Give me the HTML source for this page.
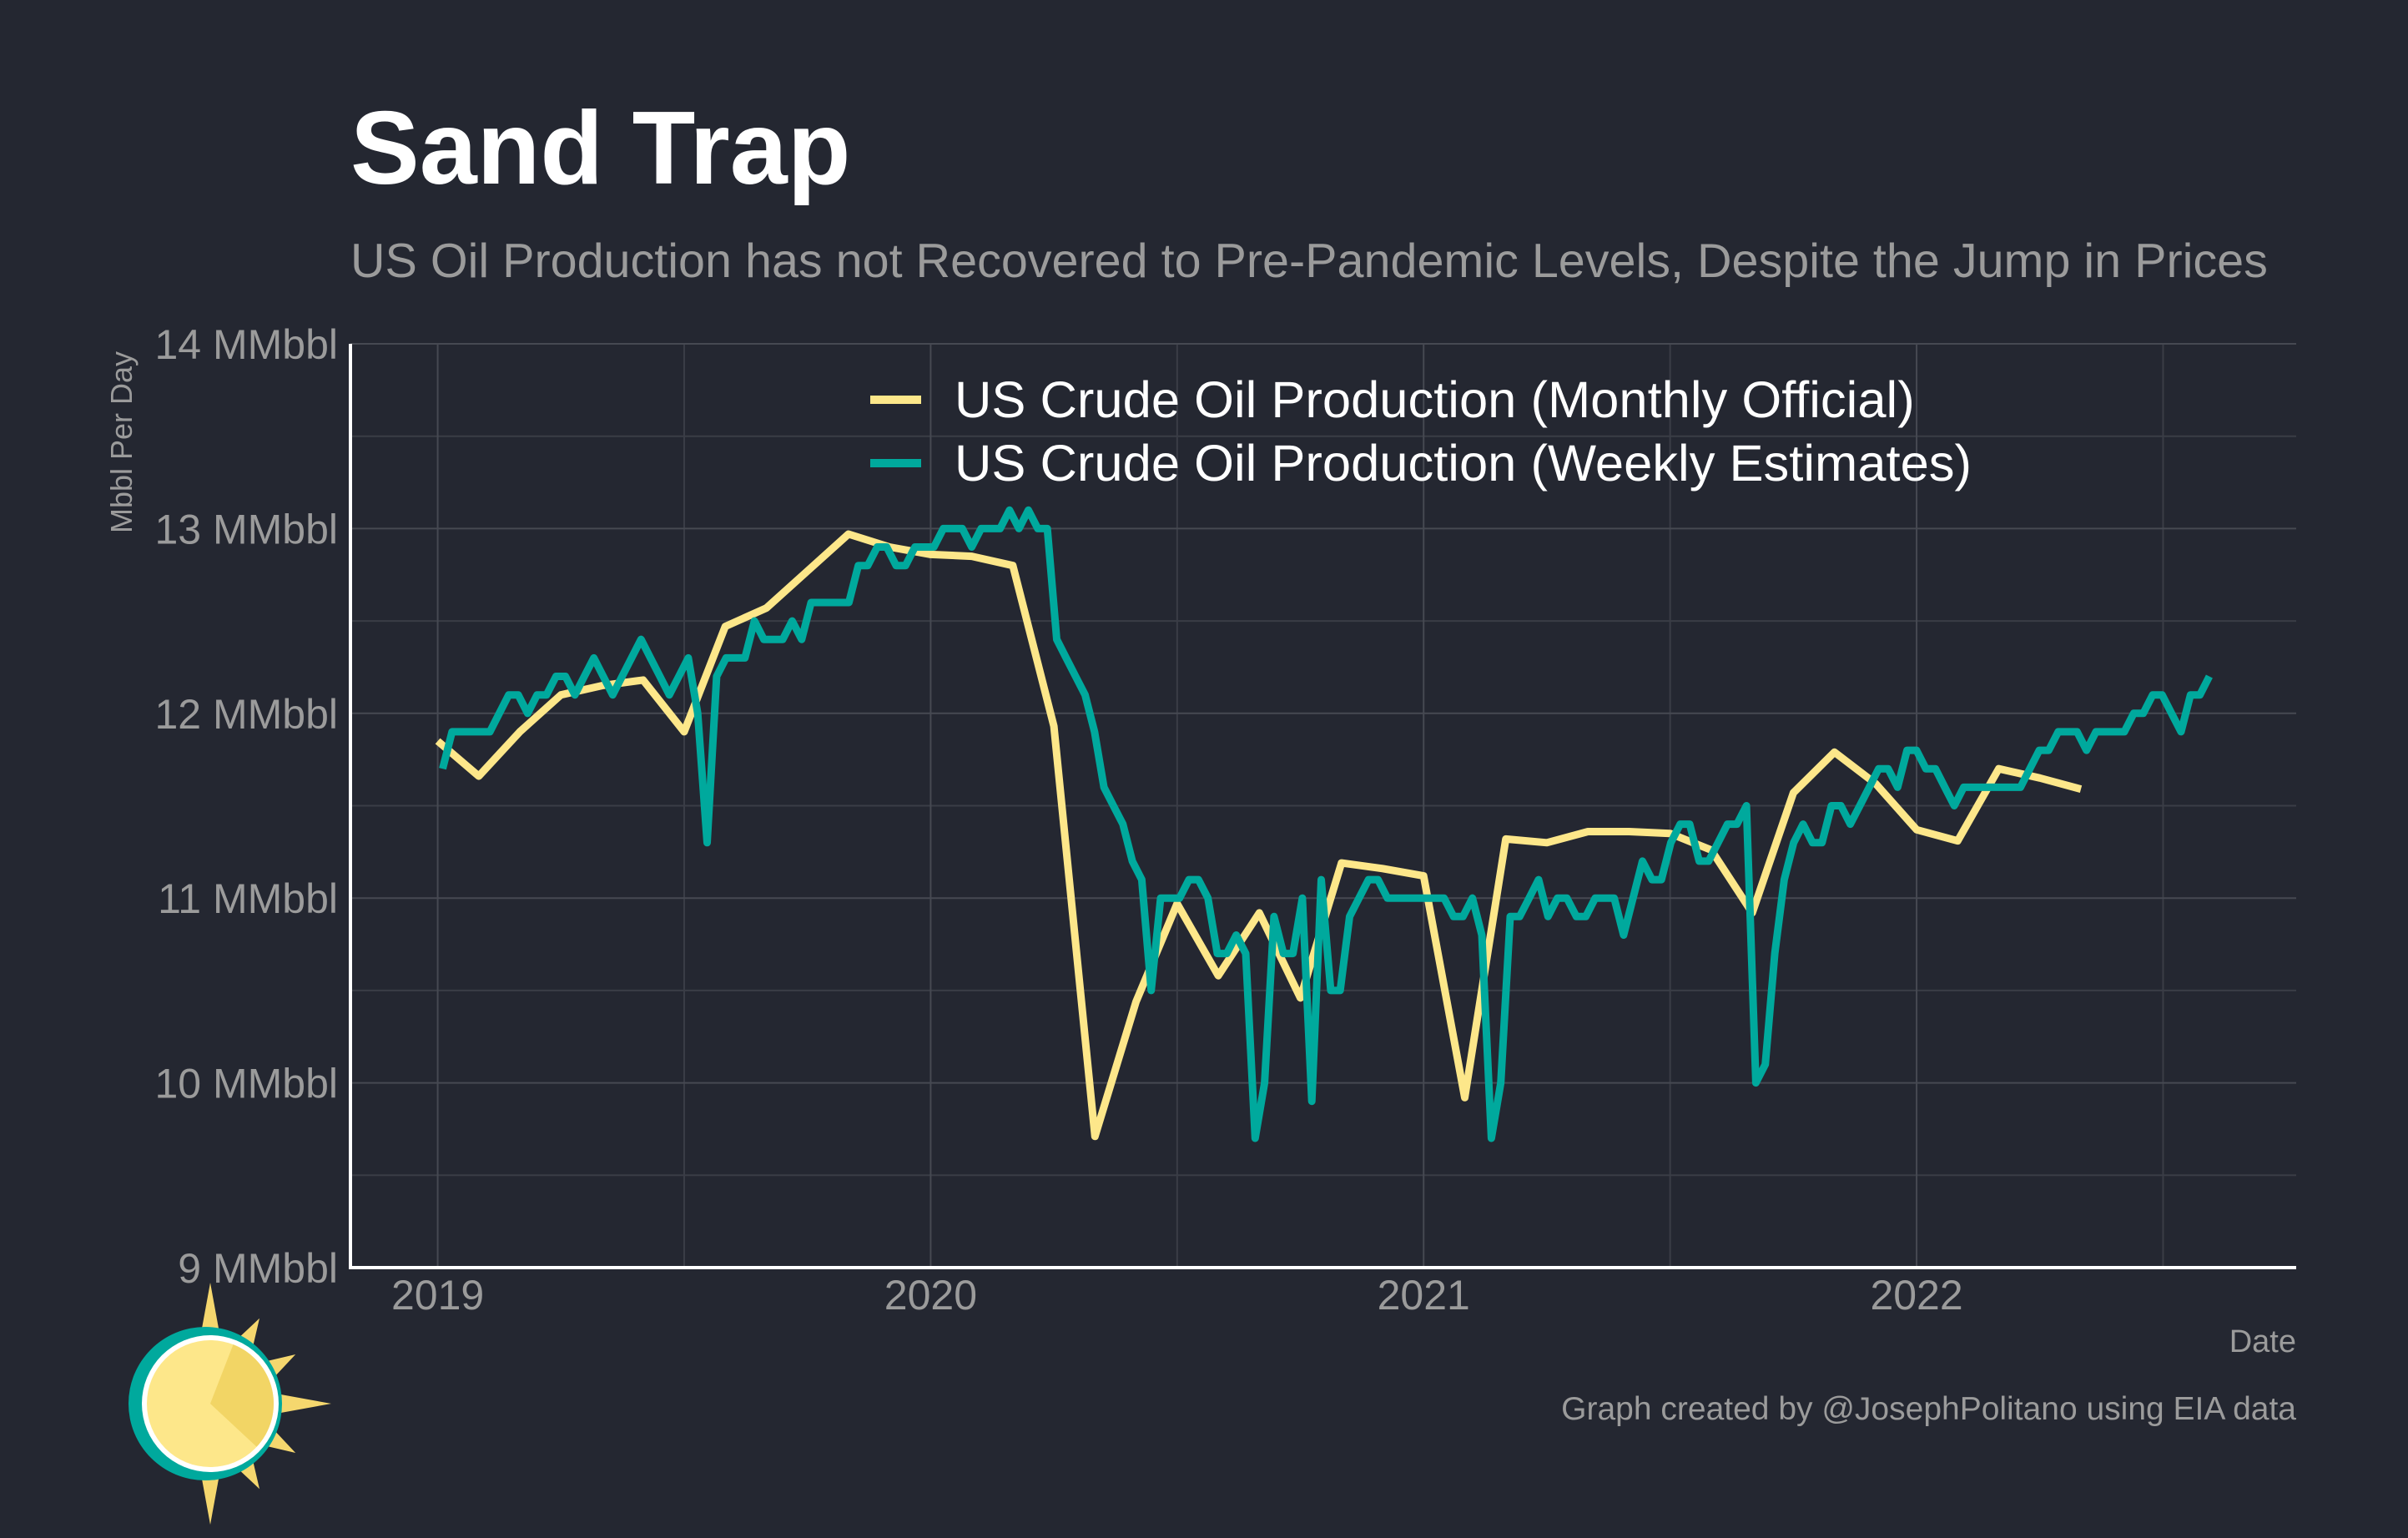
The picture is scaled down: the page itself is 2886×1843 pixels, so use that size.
<!DOCTYPE html>
<html><head><meta charset="utf-8">
<style>
html,body{margin:0;padding:0;background:#242731;}
svg{display:block;}
text{font-family:"Liberation Sans",Arial,sans-serif;}
</style></head>
<body>
<svg id="chart" width="2886" height="1843" viewBox="0 0 2886 1843">
<rect x="0" y="0" width="2886" height="1843" fill="#242731"/>
<text x="420" y="220" font-size="124" font-weight="bold" fill="#ffffff">Sand Trap</text>
<text x="420" y="332" font-size="57.5" fill="#9b9b9b">US Oil Production has not Recovered to Pre-Pandemic Levels, Despite the Jump in Prices</text>
<g id="grid"></g>
<g id="yticks"></g>
<g id="xticks"></g>
<text transform="translate(158,530) rotate(-90)" text-anchor="middle" font-size="36" fill="#9b9b9b">Mbbl Per Day</text>
<g id="series"></g>
<line x1="420" y1="412" x2="420" y2="1519" stroke="#ffffff" stroke-width="4"/>
<line x1="418" y1="1519" x2="2752" y2="1519" stroke="#ffffff" stroke-width="4"/>
<g>
<g>
<line x1="1043" y1="479" x2="1104" y2="479" stroke="#fde78a" stroke-width="10"/>
<text x="1144" y="500" font-size="61.5" fill="#ffffff">US Crude Oil Production (Monthly Official)</text>
</g>
<g>
<line x1="1043" y1="555" x2="1104" y2="555" stroke="#00a99d" stroke-width="10"/>
<text x="1144" y="576" font-size="61.5" fill="#ffffff">US Crude Oil Production (Weekly Estimates)</text>
</g>
</g>
<text x="2752" y="1620" text-anchor="end" font-size="38" fill="#9b9b9b">Date</text>
<text x="2752" y="1701" text-anchor="end" font-size="39" fill="#9b9b9b">Graph created by @JosephPolitano using EIA data</text>
<g id="logo"></g>
</svg>
<script>
const yTicks = [9, 10, 11, 12, 13, 14];
const yTickLabels = ["9 MMbbl", "10 MMbbl", "11 MMbbl", "12 MMbbl", "13 MMbbl", "14 MMbbl"];
const xTicks = [2019, 2020, 2021, 2022];
const xTickLabels = ["2019", "2020", "2021", "2022"];
const monthlyStart = 2019.0;
const monthlyValues = [11.85,11.66,11.9,12.1,12.15,12.18,11.9,12.47,12.57,12.77,12.97,12.9,
 12.86,12.85,12.8,11.93,9.71,10.44,10.97,10.58,10.92,10.46,11.19,11.16,
 11.12,9.92,11.32,11.3,11.36,11.36,11.35,11.26,10.92,11.57,11.79,11.62,
 11.37,11.31,11.7,11.65,11.59];
const weeklyStart = 2019.01;
const weeklyValues = [
 11.7,11.9,11.9,11.9,11.9,11.9,12.0,12.1,12.1,12.0,12.1,12.1,12.2,12.2,12.1,12.2,12.3,12.2,12.1,12.2,
 12.3,12.4,12.3,12.2,12.1,12.2,12.3,12.0,11.3,12.2,12.3,12.3,12.3,12.5,12.4,12.4,12.4,12.5,12.4,12.6,
 12.6,12.6,12.6,12.6,12.8,12.8,12.9,12.9,12.8,12.8,12.9,12.9,
 12.9,13.0,13.0,13.0,12.9,13.0,13.0,13.0,13.1,13.0,13.1,13.0,13.0,12.4,12.3,12.2,12.1,11.9,11.6,11.5,
 11.4,11.2,11.1,10.5,11.0,11.0,11.0,11.1,11.1,11.0,10.7,10.7,10.8,10.7,9.7,10.0,10.9,10.7,10.7,11.0,
 9.9,11.1,10.5,10.5,10.9,11.0,11.1,11.1,11.0,11.0,11.0,11.0,
 11.0,11.0,11.0,10.9,10.9,11.0,10.8,9.7,10.0,10.9,10.9,11.0,11.1,10.9,11.0,11.0,10.9,10.9,11.0,11.0,
 11.0,10.8,11.0,11.2,11.1,11.1,11.3,11.4,11.4,11.2,11.2,11.3,11.4,11.4,11.5,10.0,10.1,10.7,11.1,11.3,
 11.4,11.3,11.3,11.5,11.5,11.4,11.5,11.6,11.7,11.7,11.6,11.8,
 11.8,11.7,11.7,11.6,11.5,11.6,11.6,11.6,11.6,11.6,11.6,11.6,11.7,11.8,11.8,11.9,11.9,11.9,11.8,11.9,
 11.9,11.9,11.9,12.0,12.0,12.1,12.1,12.0,11.9,12.1,12.1,12.2];

const NS = "http://www.w3.org/2000/svg";
const L = 420, R = 2752, T = 412, B = 1519;
const X0 = 2018.823, X1 = 2022.770;
function xs(t){ return L + (t - X0) / (X1 - X0) * (R - L); }
function ys(v){ return B - (v - 9) / (14 - 9) * (B - T); }
function mk(tag, attrs, parent){ const e = document.createElementNS(NS, tag); for (const k in attrs) e.setAttribute(k, attrs[k]); parent.appendChild(e); return e; }

const grid = document.getElementById('grid');
for (let v = 9.5; v < 14; v += 1) {
  const g = mk('line', {x1:L, x2:R, y1:ys(v), y2:ys(v), stroke:'#3a3d46', 'stroke-width':2}, grid);
  
  
}
for (let t = 2019.5; t < X1; t += 1) {
  const g = mk('line', {x1:xs(t), x2:xs(t), y1:T, y2:B, stroke:'#3a3d46', 'stroke-width':2}, grid);
  
  
}
const yt = document.getElementById('yticks');
yTicks.forEach((v, i) => {
  const g = mk('line', {x1:L, x2:R, y1:ys(v), y2:ys(v), stroke:'#464952', 'stroke-width':2}, grid);
  
  
  const t = mk('text', {x:405, y:ys(v)+18, 'text-anchor':'end', 'font-size':50, fill:'#9b9b9b'}, yt);
  t.textContent = yTickLabels[i];
  
  
});
const xt = document.getElementById('xticks');
xTicks.forEach((v, i) => {
  const g = mk('line', {x1:xs(v), x2:xs(v), y1:T, y2:B, stroke:'#464952', 'stroke-width':2}, grid);
  
  
  const t = mk('text', {x:xs(v), y:1569, 'text-anchor':'middle', 'font-size':50, fill:'#9b9b9b'}, xt);
  t.textContent = xTickLabels[i];
  
  
});
const series = document.getElementById('series');
const mPts = monthlyValues.map((v, i) => xs(monthlyStart + i / 12).toFixed(1) + ',' + ys(v).toFixed(1)).join(' ');
const m = mk('polyline', {points:mPts, fill:'none', stroke:'#fde78a', 'stroke-width':9, 'stroke-linejoin':'round'}, series);


const wPts = weeklyValues.map((v, i) => xs(weeklyStart + i * 7 / 365.25).toFixed(1) + ',' + ys(v).toFixed(1)).join(' ');
const w = mk('polyline', {points:wPts, fill:'none', stroke:'#00a99d', 'stroke-width':9, 'stroke-linejoin':'round'}, series);



// logo
const logo = document.getElementById('logo');
const cx = 252, cy = 1682;
for (let k = 0; k < 12; k++) {
  const a = -Math.PI/2 + k * Math.PI / 6;
  if (Math.cos(a) < -0.3) continue;
  const len = (k % 3 === 0) ? 145 : 118;
  const p1x = cx + Math.cos(a) * len, p1y = cy + Math.sin(a) * len;
  const b1 = a - 0.16, b2 = a + 0.16;
  const s = mk('polygon', {points:`${cx+Math.cos(b1)*78},${cy+Math.sin(b1)*78} ${p1x},${p1y} ${cx+Math.cos(b2)*78},${cy+Math.sin(b2)*78}`, fill:'#f5d76e'}, logo);
  
  
}
const c1 = mk('circle', {cx:cx-6, cy:cy, r:92, fill:'#00a99d'}, logo);


const c2 = mk('circle', {cx:cx, cy:cy, r:82, fill:'#ffffff'}, logo);


const c3 = mk('circle', {cx:cx, cy:cy, r:76, fill:'#fde78a'}, logo);


const wedge = mk('path', {d:`M${cx},${cy} L${cx+Math.cos(-1.2)*76},${cy+Math.sin(-1.2)*76} A76,76 0 0 1 ${cx+Math.cos(0.75)*76},${cy+Math.sin(0.75)*76} Z`, fill:'#f2d565'}, logo);


</script>
</body></html>
